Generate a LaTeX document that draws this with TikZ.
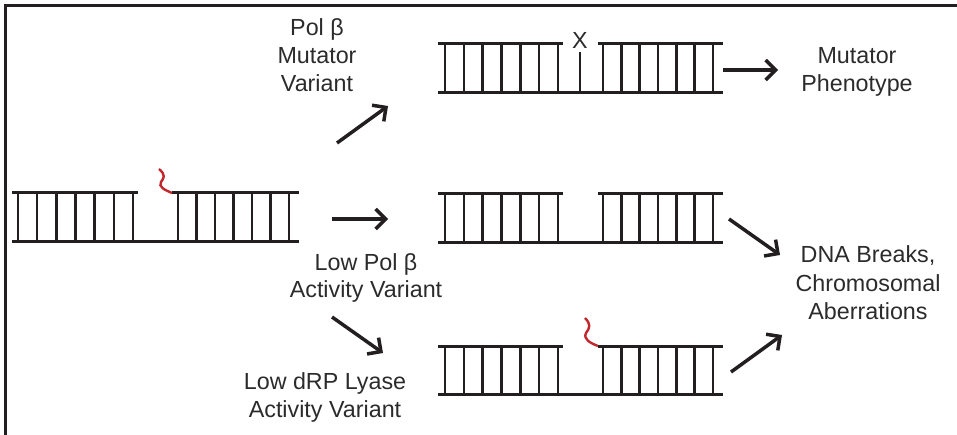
\documentclass[tikz,border=0pt]{standalone}
\usepackage{fontspec}
\setmainfont{Liberation Sans}
\usetikzlibrary{arrows.meta}
\definecolor{ink}{HTML}{231F20}
\definecolor{txt}{HTML}{2B2B2B}
\definecolor{redend}{HTML}{C1272D}
\tikzset{
 strand/.style={line width=3pt, draw=ink},
 rung/.style={line width=2.6pt, draw=ink},
 thinrung/.style={line width=1.5pt, draw=ink},
 flow/.style={line width=3.5pt, draw=ink, -{Straight Barb[length=10pt,width=20pt]}},
 lbl/.style={font=\fontsize{23.3}{28}\selectfont, text=txt, align=center, inner sep=0pt},
 flap/.style={line width=2.4pt, draw=redend},
 frame/.style={line width=2.8pt, draw=ink}
}
\newcommand\dnaladder[6]{%
 \draw[strand] (#1,#3) -- (#2,#3);
 \foreach \i in {0,...,6} \draw[rung] ({#5+\i*(#6-#5)/6},#3) -- ({#5+\i*(#6-#5)/6},#4);
}
\begin{document}
\begin{tikzpicture}[x=1pt,y=-1pt]
\useasboundingbox (0,0) rectangle (957,435);
% frame (top and left edges visible)
\draw[frame] (5.3,435) -- (5.3,5.3) -- (957,5.3);

% starting DNA (left)
\dnaladder{12}{138}{193}{242}{18}{133}
\dnaladder{172}{299}{193}{242}{178}{289}
\draw[strand] (12,242) -- (299,242);
\draw[flap] (172,193) .. controls (165,190) and (158,187) .. (161,182) .. controls (164,178) and (166,175) .. (159,169);

% top product: mutation
\dnaladder{438}{563}{44}{93}{445}{558}
\dnaladder{598}{723}{44}{93}{603}{713}
\draw[strand] (438,93) -- (723,93);
\draw[thinrung] (580,52) -- (580,93);
\node[lbl, anchor=base] (mut) at (580,49) {X};

% middle product: gap
\dnaladder{438}{563}{194}{243}{445}{558}
\dnaladder{598}{723}{194}{243}{603}{713}
\draw[strand] (438,243) -- (723,243);

% bottom product: flap
\dnaladder{438}{563}{346}{394}{445}{558}
\dnaladder{598}{723}{346}{394}{603}{713}
\draw[strand] (438,394) -- (723,394);
\draw[flap] (598,346) .. controls (590,343) and (583,339) .. (586,333) .. controls (590,328) and (591,324) .. (585,318);

% labels (anchor = baseline of the last line)
\node[lbl, anchor=base] (polb) at (317,92) {Pol β\\Mutator\\Variant};
\node[lbl, anchor=base] (lowpol) at (366,298) {Low Pol β\\Activity Variant};
\node[lbl, anchor=base] (lowdrp) at (325,417) {Low dRP Lyase\\Activity Variant};
\node[lbl, anchor=base] (pheno) at (857,92) {Mutator\\Phenotype};
\node[lbl, anchor=base] (breaks) at (868,319) {DNA Breaks,\\Chromosomal\\Aberrations};

% arrow end points
\coordinate (a1s) at (337,143); \coordinate (a1e) at (388,106);
\coordinate (a2s) at (332,219); \coordinate (a2e) at (388,219);
\coordinate (a3s) at (332,317); \coordinate (a3e) at (383,353);
\coordinate (a4s) at (723,70);  \coordinate (a4e) at (778,70);
\coordinate (a5s) at (729,219); \coordinate (a5e) at (780,255);
\coordinate (a6s) at (731,372); \coordinate (a6e) at (782,335);
\draw[flow] (a1s) -- (a1e);
\draw[flow] (a2s) -- (a2e);
\draw[flow] (a3s) -- (a3e);
\draw[flow] (a4s) -- (a4e);
\draw[flow] (a5s) -- (a5e);
\draw[flow] (a6s) -- (a6e);
\end{tikzpicture}
\end{document}
